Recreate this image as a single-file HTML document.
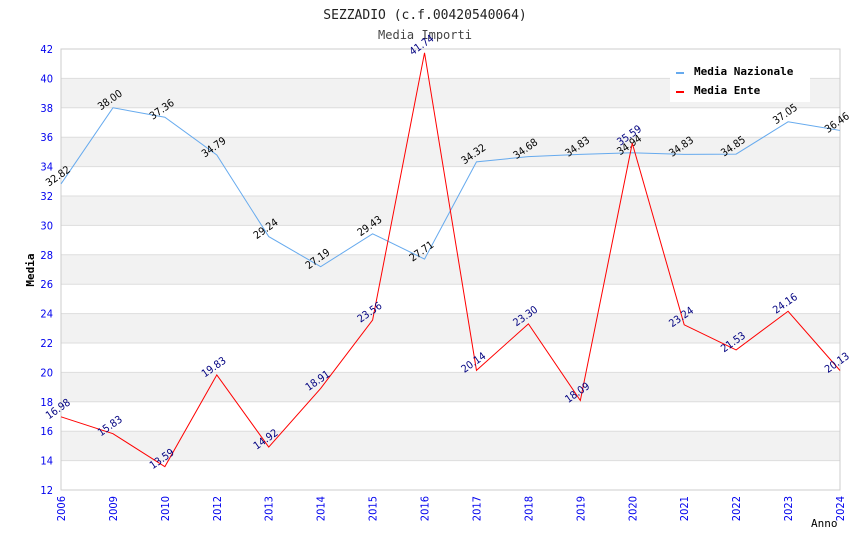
<!DOCTYPE html>
<html><head><meta charset="utf-8"><style>
body{margin:0;background:#fff}
svg{font-family:"DejaVu Sans Mono","Liberation Mono",monospace}
.lbl{font-family:"DejaVu Sans Condensed","DejaVu Sans","Liberation Sans",sans-serif}
</style></head><body>
<svg width="850" height="550" xmlns="http://www.w3.org/2000/svg" id="chart">
<text x="425" y="19" text-anchor="middle" font-size="13" fill="#222">SEZZADIO (c.f.00420540064)</text>
<text x="425" y="39" text-anchor="middle" font-size="12" fill="#444">Media Importi</text>
<g id="bands"></g>
<g id="grid"></g>
<rect x="61" y="49" width="779" height="441" fill="none" stroke="#ccc"/>
<g id="yticks"></g>
<g id="xticks"></g>
<g id="series"></g>
<text x="34" y="270" transform="rotate(-90 34 270)" text-anchor="middle" font-size="11" font-weight="bold" fill="#000">Media</text>
<text x="811" y="527" font-size="11" fill="#000">Anno</text>
<g>
<rect x="670" y="60" width="140" height="42" fill="#fff"/>
<g><rect x="676" y="72" width="8" height="2" fill="#66aaee"/><text x="694" y="75" font-size="11" font-weight="bold">Media Nazionale</text></g>
<g><rect x="676" y="91" width="8" height="2" fill="#ff0000"/><text x="694" y="94" font-size="11" font-weight="bold">Media Ente</text></g>
</g>
</svg>
<script>
const years=["2006","2009","2010","2012","2013","2014","2015","2016","2017","2018","2019","2020","2021","2022","2023","2024"];
const nazionale=[32.82,38.00,37.36,34.79,29.24,27.19,29.43,27.71,34.32,34.68,34.83,34.94,34.83,34.85,37.05,36.46];
const ente=[16.98,15.83,13.59,19.83,14.92,18.91,23.56,41.74,20.14,23.30,18.09,35.59,23.24,21.53,24.16,20.13];
const yTicks=[12,14,16,18,20,22,24,26,28,30,32,34,36,38,40,42];
const NS="http://www.w3.org/2000/svg";
const X0=61,X1=840,Y0=490,Y1=49,YMIN=12,YMAX=42;
const xs=i=>X0+i*(X1-X0)/(years.length-1);
const ys=v=>Y0-(v-YMIN)/(YMAX-YMIN)*(Y0-Y1);
function mk(tag,attrs,parent){const e=document.createElementNS(NS,tag);for(const k in attrs)e.setAttribute(k,attrs[k]);document.getElementById(parent).appendChild(e);return e;}
for(let i=0;i<yTicks.length-1;i++){
  const lo=yTicks[i],hi=yTicks[i+1];
  if(i%2===1){const b=mk('rect',{x:X0,y:ys(hi),width:X1-X0,height:ys(lo)-ys(hi),fill:'#f2f2f2'},'bands');
  
  }
}
yTicks.forEach(v=>{
  const l=mk('line',{x1:X0,x2:X1,y1:ys(v),y2:ys(v),stroke:'#ddd'},'grid');
  
  
  const t=mk('text',{x:X0-8,y:ys(v)+4,'text-anchor':'end','font-size':'11',fill:'#0000ee',class:'lbl'},'yticks');
  t.textContent=v;
  
  
});
years.forEach((y,i)=>{
  const x=xs(i);
  const t=mk('text',{x:x+4,y:496,'text-anchor':'end','font-size':'11',fill:'#0000ee',class:'lbl',transform:`rotate(-90 ${x+4} 496)`},'xticks');
  t.textContent=y;
  
  
});
function series(vals,color,lblColor,name){
  const p=mk('polyline',{points:vals.map((v,i)=>xs(i)+','+ys(v)).join(' '),fill:'none',stroke:color,'stroke-width':'1'},'series');
  
  
  vals.forEach((v,i)=>{
    const x=xs(i)-1,y=ys(v)-5;
    const t=mk('text',{x:x,y:y,'text-anchor':'middle','font-size':'10.5',fill:lblColor,class:'lbl',transform:`rotate(-35 ${x} ${y})`},'series');
    t.textContent=v.toFixed(2);
    
    
  });
}
series(nazionale,'#66aaee','#000','nazionale');
series(ente,'#ff0000','#000080','ente');
</script>
</body></html>
